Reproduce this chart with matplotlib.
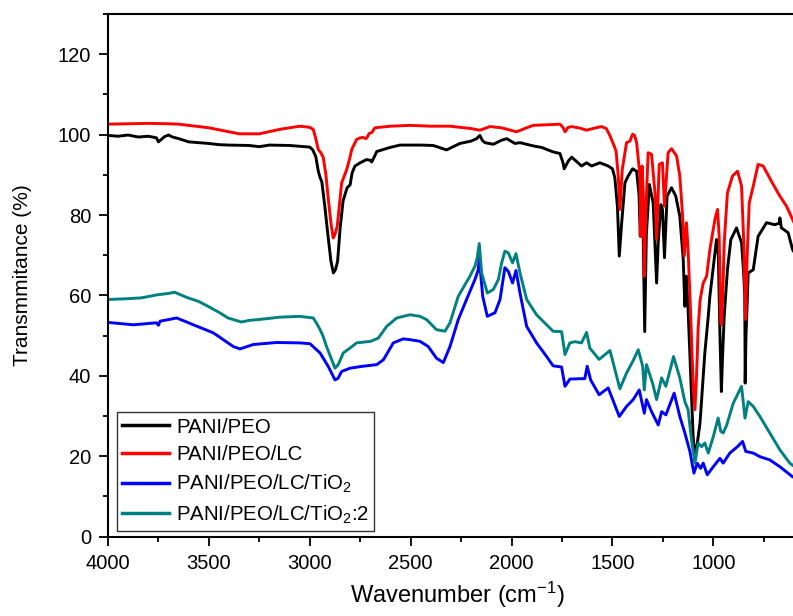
import matplotlib
matplotlib.use("Agg")
import matplotlib.pyplot as plt
from matplotlib.ticker import MultipleLocator

plt.rcParams['font.family'] = ['Liberation Sans', 'DejaVu Sans']
plt.rcParams['mathtext.fontset'] = 'custom'
plt.rcParams['mathtext.rm'] = 'Liberation Sans'
plt.rcParams['mathtext.it'] = 'Liberation Sans:italic'
plt.rcParams['mathtext.bf'] = 'Liberation Sans:bold'

# ---------------- data ----------------
labels = ["PANI/PEO", "PANI/PEO/LC", "PANI/PEO/LC/TiO$_2$", "PANI/PEO/LC/TiO$_2$:2"]
colors = ["#000000", "#ff0000", "#0000ff", "#008080"]

pani_peo_wn = [4000, 3950, 3900, 3850, 3800, 3760, 3750, 3740, 3720, 3700, 3680, 3650, 3600, 3550,
               3500, 3450, 3400, 3300, 3250, 3200, 3100, 3000, 2985, 2970, 2958, 2950, 2940, 2925,
               2910, 2895, 2883, 2872, 2862, 2850, 2835, 2815, 2800, 2790, 2776, 2750, 2718, 2700,
               2693, 2680, 2668, 2603, 2553, 2450, 2388, 2322, 2256, 2200, 2173, 2157, 2145, 2132,
               2090, 2050, 2024, 1983, 1958, 1893, 1850, 1794, 1760, 1745, 1739, 1719, 1702, 1653,
               1628, 1603, 1562, 1521, 1500, 1488, 1475, 1466, 1454, 1438, 1422, 1400, 1380, 1368,
               1362, 1356, 1350, 1340, 1332, 1317, 1298, 1281, 1273, 1260, 1252, 1242, 1229, 1207,
               1186, 1166, 1149, 1141, 1133, 1125, 1112, 1100, 1091, 1080, 1066, 1058, 1042, 1025,
               1017, 1000, 984, 975, 967, 960, 954, 946, 930, 913, 885, 860, 850, 844, 842, 838,
               827, 802, 778, 736, 695, 672, 670, 665, 662, 629, 607, 590]
pani_peo_t = [99.8, 99.6, 99.9, 99.4, 99.6, 99.2, 98.2, 98.6, 99.5, 99.9, 99.4, 99.0, 98.2, 98.0,
              97.8, 97.5, 97.4, 97.3, 97.0, 97.4, 97.3, 96.9, 96.2, 94.5, 91.0, 89.5, 88.2, 82.0,
              75.0, 68.5, 65.6, 66.5, 68.5, 76.5, 83.5, 86.8, 87.5, 90.5, 92.2, 93.0, 93.8, 93.6,
              93.2, 94.5, 95.8, 96.8, 97.4, 97.4, 97.3, 96.2, 97.8, 98.4, 99.0, 99.8, 98.6, 98.0,
              97.6, 98.6, 99.0, 97.8, 98.0, 97.2, 96.8, 95.7, 95.3, 93.0, 91.5, 93.4, 94.4, 92.2,
              93.0, 92.2, 93.0, 92.2, 91.5, 89.3, 82.0, 69.8, 78.1, 88.0, 89.7, 91.5, 90.9, 85.0,
              74.7, 84.0, 83.0, 51.0, 75.0, 87.6, 83.0, 63.1, 73.1, 82.6, 81.4, 69.4, 84.7, 86.8,
              84.7, 79.7, 68.9, 57.3, 64.8, 56.5, 40.0, 25.0, 19.8, 23.0, 28.2, 34.0, 45.7, 54.8,
              59.8, 67.0, 73.9, 70.0, 50.0, 36.1, 45.0, 54.8, 66.4, 73.9, 76.8, 73.1, 66.0, 59.8,
              38.2, 50.0, 65.6, 66.4, 74.7, 78.1, 77.6, 78.0, 79.3, 77.5, 76.8, 75.6, 71.4, 70.0]

pani_peo_lc_wn = [4000, 3900, 3800, 3700, 3650, 3600, 3500, 3400, 3350, 3250, 3150, 3049, 3000, 2983,
                  2970, 2958, 2945, 2933, 2920, 2908, 2895, 2884, 2875, 2864, 2852, 2842, 2817, 2800,
                  2792, 2768, 2750, 2735, 2720, 2705, 2693, 2677, 2600, 2503, 2400, 2305, 2200, 2157,
                  2107, 2050, 1975, 1930, 1893, 1800, 1760, 1745, 1735, 1720, 1702, 1660, 1628, 1590,
                  1554, 1530, 1512, 1490, 1482, 1471, 1463, 1451, 1430, 1413, 1400, 1390, 1380, 1368,
                  1364, 1359, 1353, 1347, 1342, 1335, 1323, 1306, 1289, 1281, 1268, 1252, 1242, 1224,
                  1207, 1182, 1166, 1152, 1144, 1133, 1125, 1112, 1100, 1091, 1083, 1075, 1065, 1050,
                  1033, 1017, 992, 979, 971, 963, 959, 952, 946, 930, 905, 880, 860, 849, 840, 832,
                  822, 802, 778, 753, 712, 670, 637, 607, 590]
pani_peo_lc_t = [102.6, 102.7, 102.8, 102.7, 102.6, 102.3, 101.7, 100.7, 100.2, 100.2, 101.3, 102.1, 101.8, 101.3,
                 99.0, 96.3, 95.5, 94.3, 90.0, 83.9, 78.0, 74.3, 75.2, 77.2, 83.0, 88.0, 91.3, 94.5,
                 96.3, 98.8, 99.2, 99.3, 99.0, 100.3, 100.5, 101.7, 102.1, 102.3, 102.1, 102.1, 101.5, 101.1,
                 102.0, 101.7, 100.7, 101.6, 102.3, 102.5, 102.6, 101.8, 100.7, 101.8, 102.0, 101.6, 101.1, 101.6,
                 102.0, 101.5, 99.7, 97.0, 95.9, 89.7, 81.4, 91.4, 98.0, 98.4, 100.1, 99.8, 98.0, 92.0,
                 89.7, 74.7, 92.2, 85.0, 64.8, 80.0, 95.5, 95.1, 85.5, 73.9, 92.6, 93.0, 82.2, 95.5,
                 96.5, 94.7, 89.7, 79.7, 69.8, 78.1, 71.4, 55.0, 38.0, 31.6, 40.0, 52.0, 59.0, 63.1,
                 64.8, 71.4, 78.9, 81.4, 74.7, 53.2, 52.7, 62.0, 73.1, 85.5, 89.7, 90.9, 87.2, 73.1, 54.0, 70.0,
                 83.0, 87.2, 92.6, 92.2, 88.4, 84.7, 82.2, 78.9, 77.0]

pani_peo_lc_tio2_wn = [4000, 3875, 3760, 3750, 3742, 3700, 3660, 3620, 3577, 3478, 3379, 3346, 3280, 3164,
                       3049, 2999, 2949, 2908, 2875, 2860, 2842, 2801, 2751, 2668, 2635, 2586, 2537, 2503,
                       2454, 2413, 2372, 2338, 2305, 2264, 2223, 2181, 2165, 2160, 2143, 2120, 2082, 2057,
                       2033, 2016, 1995, 1978, 1958, 1925, 1876, 1826, 1794, 1752, 1735, 1711, 1661, 1637,
                       1625, 1608, 1566, 1521, 1466, 1430, 1397, 1367, 1342, 1331, 1306, 1273, 1256, 1235,
                       1194, 1166, 1141, 1116, 1096, 1080, 1063, 1050, 1030, 1000, 967, 951, 918, 880,
                       855, 839, 802, 769, 720, 670, 607, 590]
pani_peo_lc_tio2_t = [53.3, 52.7, 53.2, 52.6, 53.6, 54.0, 54.4, 53.6, 52.7, 50.7, 47.3, 46.7, 47.8, 48.3,
                      48.2, 48.0, 45.7, 42.3, 39.0, 39.4, 41.1, 41.9, 42.3, 42.8, 44.0, 48.2, 49.2, 49.0,
                      48.6, 47.3, 44.4, 43.3, 47.3, 54.0, 59.0, 64.0, 66.4, 69.4, 59.8, 54.8, 55.7, 59.0,
                      66.9, 66.0, 63.1, 66.2, 60.6, 52.3, 48.2, 44.8, 42.5, 42.2, 37.4, 39.2, 39.3, 39.3,
                      42.4, 39.0, 35.3, 37.0, 29.9, 32.4, 34.1, 36.5, 30.7, 34.1, 31.1, 27.8, 31.1, 30.3,
                      35.7, 29.9, 25.8, 21.2, 15.8, 18.3, 17.0, 18.3, 15.4, 17.4, 19.5, 18.3, 20.8, 22.4,
                      23.7, 21.2, 20.8, 19.9, 19.1, 17.4, 14.9, 14.5]

pani_peo_lc_tio2_2_wn = [4000, 3900, 3835, 3752, 3700, 3670, 3604, 3550, 3504, 3450, 3405, 3339, 3300, 3257,
                         3200, 3150, 3049, 2983, 2965, 2949, 2935, 2917, 2895, 2875, 2859, 2834, 2801, 2768,
                         2698, 2660, 2619, 2569, 2503, 2454, 2421, 2372, 2330, 2305, 2264, 2206, 2181, 2170,
                         2160, 2148, 2120, 2090, 2065, 2049, 2033, 2016, 1995, 1978, 1958, 1925, 1876, 1826,
                         1794, 1752, 1735, 1711, 1686, 1653, 1628, 1612, 1566, 1512, 1463, 1430, 1397, 1372,
                         1350, 1342, 1331, 1300, 1281, 1256, 1235, 1197, 1166, 1141, 1125, 1108, 1091, 1075,
                         1058, 1042, 1025, 1000, 976, 963, 951, 934, 901, 860, 843, 827, 802, 769,
                         720, 670, 621, 600]
pani_peo_lc_tio2_2_t = [59.0, 59.2, 59.4, 60.2, 60.5, 60.8, 59.4, 58.5, 57.3, 55.8, 54.4, 53.4, 53.8, 54.0,
                        54.3, 54.6, 54.8, 54.4, 53.0, 51.5, 50.0, 47.3, 44.5, 41.9, 42.8, 45.7, 46.9, 48.2,
                        48.6, 49.4, 52.3, 54.4, 55.2, 54.8, 54.0, 51.5, 51.1, 53.2, 59.8, 64.8, 67.3, 69.4,
                        72.9, 65.6, 60.6, 61.5, 64.0, 68.1, 71.0, 70.6, 68.1, 70.4, 65.6, 59.0, 55.2, 52.7,
                        51.1, 51.0, 45.3, 48.2, 48.5, 48.2, 50.8, 46.9, 44.1, 46.3, 36.8, 40.7, 43.8, 46.5,
                        42.4, 36.5, 42.8, 38.0, 34.1, 39.5, 37.4, 44.8, 39.5, 33.6, 31.6, 24.1, 18.3, 23.3,
                        22.4, 23.3, 20.8, 24.9, 29.5, 26.2, 25.8, 27.7, 33.2, 37.4, 29.5, 33.6, 32.4, 29.9,
                        25.8, 21.6, 18.3, 17.5]

x_ticks = [4000, 3500, 3000, 2500, 2000, 1500, 1000]
y_ticks = [0, 20, 40, 60, 80, 100, 120]

# ---------------- figure ----------------
W, H = 793, 616
fig = plt.figure(figsize=(W / 100, H / 100), dpi=100)
left_px, right_px, top_px, bottom_px = 108, 806, 14, 536.7
ax = fig.add_axes([left_px / W, 1 - bottom_px / H, (right_px - left_px) / W, (bottom_px - top_px) / H])

series = [(pani_peo_wn, pani_peo_t), (pani_peo_lc_wn, pani_peo_lc_t),
          (pani_peo_lc_tio2_wn, pani_peo_lc_tio2_t), (pani_peo_lc_tio2_2_wn, pani_peo_lc_tio2_2_t)]
for (wn, t), lab, c in zip(series, labels, colors):
    ax.plot(wn, t, color=c, lw=2.1, label=lab)

px_per_unit = (713.3 - 108) / 3000.0
ax.set_xlim(4000, 4000 - (right_px - left_px) / px_per_unit)
ax.set_ylim(0, 130)
ax.set_xticks(x_ticks)
ax.set_yticks(y_ticks)
ax.xaxis.set_minor_locator(MultipleLocator(250))
ax.yaxis.set_minor_locator(MultipleLocator(10))
ax.tick_params(which='major', direction='out', length=6.5, width=1.3, labelsize=14.5,
               top=False, right=False)
ax.tick_params(axis='x', which='major', pad=6)
ax.tick_params(axis='y', which='major', pad=5.5)
ax.tick_params(which='minor', direction='out', length=3.5, width=1.3, top=False, right=False)
for s in ['left', 'bottom', 'top']:
    ax.spines[s].set_linewidth(1.5)
ax.spines['right'].set_visible(False)

ax.set_xlabel("Wavenumber (cm$^{-1}$)", fontsize=17)
ax.xaxis.set_label_coords(0.5, -(603 - bottom_px) / (bottom_px - top_px), transform=ax.transAxes)
ax.xaxis.label.set_va('baseline')
ax.set_ylabel("Transmmitance (%)", fontsize=15)
ax.yaxis.set_label_coords(-(left_px - 32) / (right_px - left_px), 0.5, transform=ax.transAxes)

leg = ax.legend(loc='lower left', bbox_to_anchor=(0.013, 0.011), borderaxespad=0,
                fontsize=14.7, frameon=True, fancybox=False, edgecolor='black',
                handlelength=2.3, handletextpad=0.35, labelspacing=0.42, borderpad=0.25)
leg.get_frame().set_linewidth(1.0)
for line in leg.get_lines():
    line.set_linewidth(2.5)

fig.savefig("out.png", dpi=100)
